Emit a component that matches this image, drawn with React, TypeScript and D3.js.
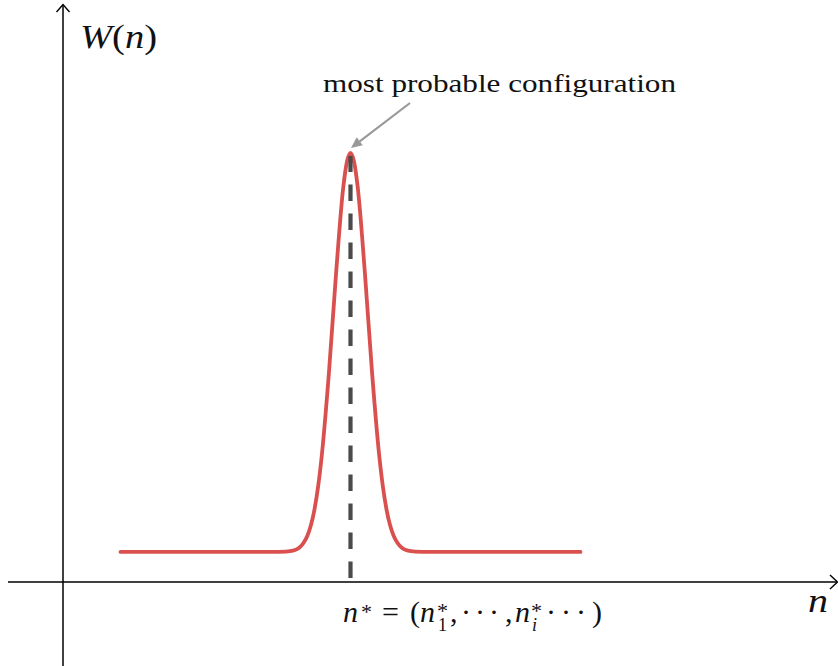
import React from 'react';
import * as d3 from 'd3';

// Curve samples (n in arbitrary units, W normalised to the peak)
const nSamples = [0.8, 2.9, 3.1, 3.2, 3.25, 3.3, 3.35, 3.4, 3.45, 3.5, 3.55, 3.6, 3.7, 3.8, 3.9, 3.95, 4.0, 4.05, 4.1, 4.2, 4.3, 4.4, 4.45, 4.5, 4.55, 4.6, 4.65, 4.7, 4.75, 4.8, 4.9, 5.1, 7.2];
const wSamples = [0.07, 0.07, 0.071, 0.073, 0.076, 0.082, 0.092, 0.108, 0.133, 0.17, 0.223, 0.294, 0.488, 0.721, 0.921, 0.979, 1.0, 0.979, 0.921, 0.721, 0.488, 0.294, 0.223, 0.17, 0.133, 0.108, 0.092, 0.082, 0.076, 0.073, 0.071, 0.07, 0.07];
const peakN = 4.0;
const peakW = 1.0;
const annotationText = 'most probable configuration';
const yAxisTitle = ['W', '(', 'n', ')'];
const xAxisTitle = 'n';

const W = 838;
const H = 666;
const FONT = "'Liberation Serif', 'Times New Roman', serif";

export default function App() {
  const x = d3.scaleLinear().domain([0, 4]).range([63, 350.5]);
  const y = d3.scaleLinear().domain([0, 1]).range([582, 153]);

  const pts: [number, number][] = nSamples.map((n, i) => [n, wSamples[i]]);
  const line = d3
    .line<[number, number]>()
    .x((d) => x(d[0]))
    .y((d) => y(d[1]))
    .curve(d3.curveMonotoneX);

  const ox = x(0);
  const oy = y(0);
  const px = x(peakN);
  const py = y(peakW);

  const tipX = px + 0.5;
  const tipY = py - 5;
  const startX = tipX + 59;
  const startY = tipY - 45;
  const ang = Math.atan2(tipY - startY, tipX - startX);
  const ah = 11;
  const aw = 5;
  const bx = tipX - ah * Math.cos(ang);
  const by = tipY - ah * Math.sin(ang);
  const head = `M${tipX},${tipY} L${bx + aw * Math.sin(ang)},${by - aw * Math.cos(ang)} L${bx - aw * Math.sin(ang)},${by + aw * Math.cos(ang)} Z`;

  const IT = 'italic';

  return (
    <svg width={W} height={H} style={{ position: 'absolute', left: 0, top: 0, background: '#fff', fontFamily: FONT }}>
      <line x1={8} y1={oy} x2={837} y2={oy} stroke="#000" strokeWidth={1.5} />
      <path d={`M${830},${oy - 7} L${837.5},${oy} L${830},${oy + 7}`} fill="none" stroke="#000" strokeWidth={1.4} />
      <line x1={ox} y1={H} x2={ox} y2={5} stroke="#000" strokeWidth={1.5} />
      <path d={`M${ox - 6.5},${12} L${ox},${4.5} L${ox + 6.5},${12}`} fill="none" stroke="#000" strokeWidth={1.4} />

      <path d={line(pts) || ''} fill="none" stroke="#d9504f" strokeWidth={3.8} strokeLinejoin="round" strokeLinecap="round" />

      <line x1={px} y1={oy - 4} x2={px} y2={py + 3} stroke="#4a4a4a" strokeWidth={4.2} strokeDasharray="16.5,12.5" />

      <line x1={startX} y1={startY} x2={bx} y2={by} stroke="#999" strokeWidth={2.2} />
      <path d={head} fill="#999" />
      <text x={499.5} y={92} fontSize={26} textAnchor="middle" textLength={353} lengthAdjust="spacingAndGlyphs" fill="#111">
        {annotationText}
      </text>

      <text x={80} y={48} fontSize={33} fill="#111" textLength={77} lengthAdjust="spacingAndGlyphs">
        <tspan fontStyle={IT}>{yAxisTitle[0]}</tspan>
        <tspan>{yAxisTitle[1]}</tspan>
        <tspan fontStyle={IT}>{yAxisTitle[2]}</tspan>
        <tspan>{yAxisTitle[3]}</tspan>
      </text>

      <text x={808} y={612} fontSize={33} fill="#111" fontStyle={IT} textLength={20} lengthAdjust="spacingAndGlyphs">{xAxisTitle}</text>

      <text y={622} fontSize={30} fill="#111">
        <tspan x={343} fontStyle={IT}>n</tspan>
        <tspan x={361} y={619} fontSize={22}>*</tspan>
        <tspan x={382} y={622}>=</tspan>
        <tspan x={410}>(</tspan>
        <tspan x={420} fontStyle={IT}>n</tspan>
        <tspan x={437} y={618} fontSize={22}>*</tspan>
        <tspan x={438} y={631} fontSize={18}>1</tspan>
        <tspan x={450} y={622}>,</tspan>
        <tspan x={461}>·</tspan>
        <tspan x={475}>·</tspan>
        <tspan x={489}>·</tspan>
        <tspan x={505}>,</tspan>
        <tspan x={515} fontStyle={IT}>n</tspan>
        <tspan x={531} y={618} fontSize={22}>*</tspan>
        <tspan x={532} y={631} fontSize={18} fontStyle={IT}>i</tspan>
        <tspan x={546} y={622}>·</tspan>
        <tspan x={561}>·</tspan>
        <tspan x={576}>·</tspan>
        <tspan x={592}>)</tspan>
      </text>
    </svg>
  );
}
